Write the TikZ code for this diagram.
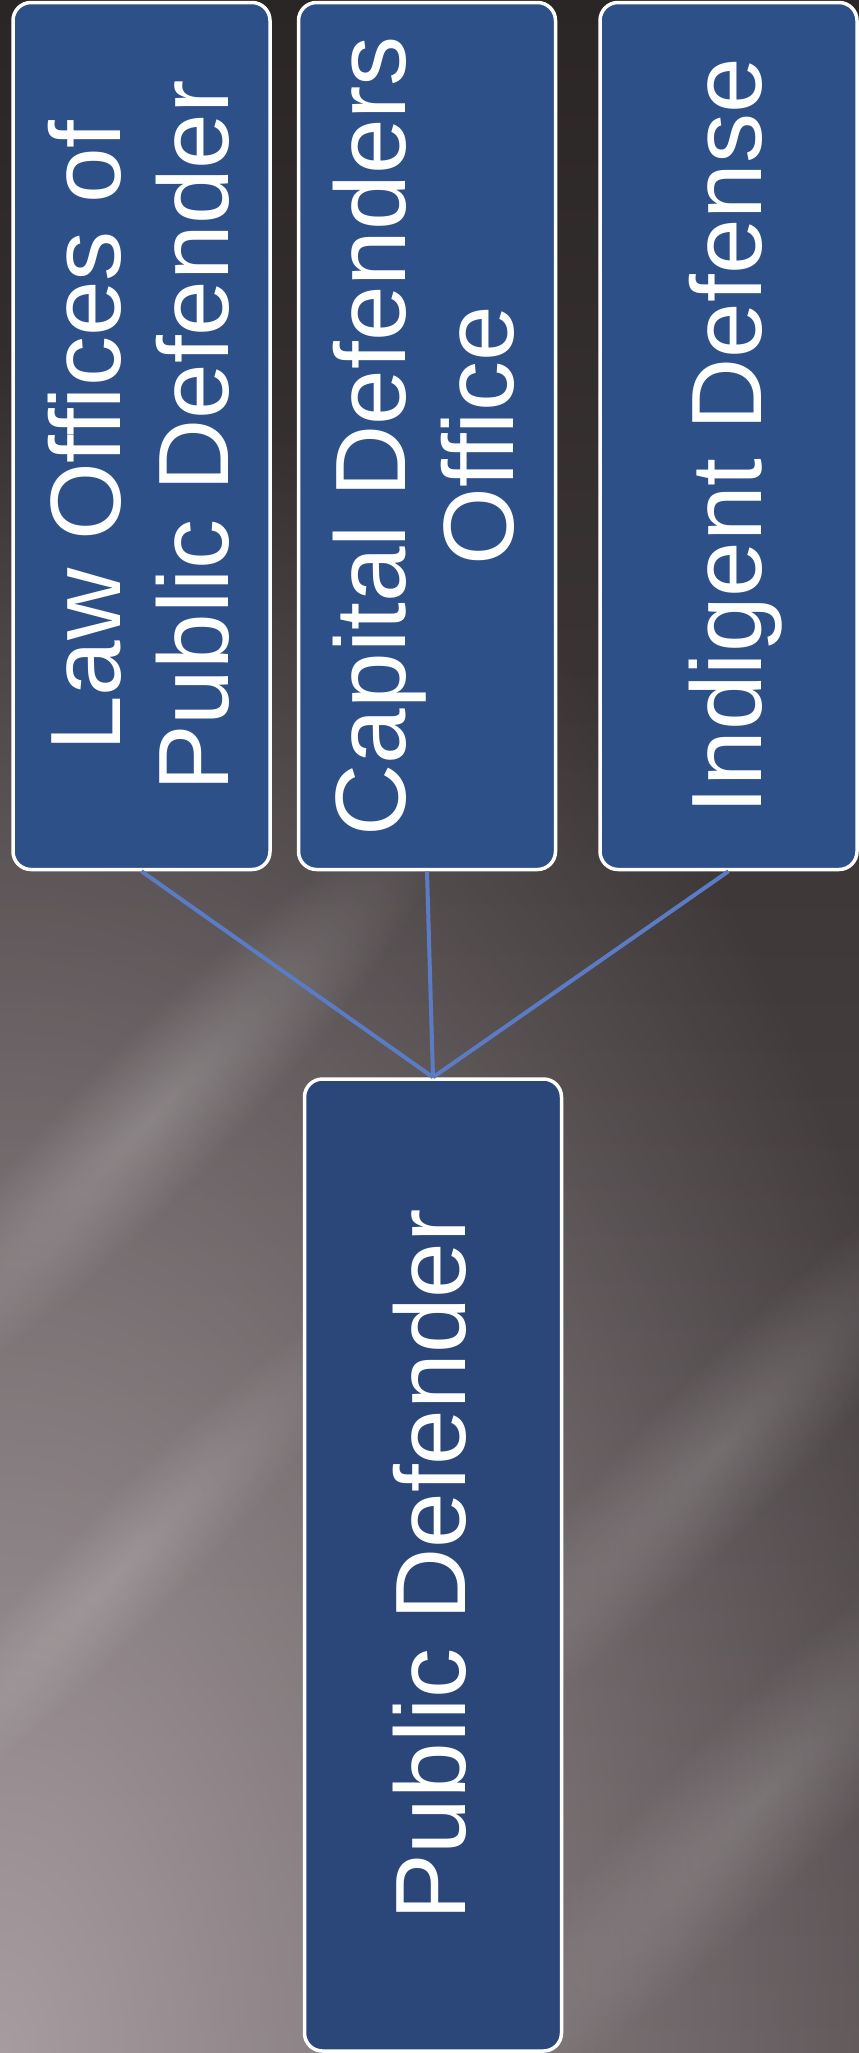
\documentclass[tikz,border=0pt]{standalone}
\usepackage{fontspec}
\setmainfont{Liberation Sans}
\usepackage{graphicx}
\usetikzlibrary{positioning,fadings}
\definecolor{boxblue}{HTML}{2E5089}
\definecolor{rootblue}{HTML}{2B4779}
\definecolor{linkblue}{HTML}{5B7CC4}
\definecolor{bgtop}{HTML}{2B2626}
\definecolor{bgbottom}{HTML}{575051}
\definecolor{bglight}{HTML}{A79CA0}
\tikzfading[name=glow,inner color=transparent!0,outer color=transparent!100]
\newcommand{\sidetext}[1]{\rotatebox{90}{\raisebox{-11pt}[\height][\depth]{\begin{tabular}{@{}c@{}}#1\end{tabular}}}}
\newcommand{\streak}[4]{\begin{scope}[transform canvas={shift={#1},rotate=46}]
    \fill[white,path fading=glow,fill opacity=#4](0,0) ellipse (#2 and #3);\end{scope}}

\begin{document}
\begin{tikzpicture}[x=1pt,y=-1pt,node distance=25pt,
    unit/.style={rectangle,draw=white,line width=3.5pt,fill=boxblue,rounded corners=18pt,
      minimum width=257pt,minimum height=867pt,inner sep=0pt,text=white,
      font=\fontsize{100}{108}\selectfont},
    link/.style={linkblue,line width=4pt}]
    % background
    \useasboundingbox (0,0) rectangle (859,2053);
    \fill[top color=bgtop,bottom color=bgbottom] (0,0) rectangle (859,2053);
    \fill[bglight,path fading=glow] (0,2053) ellipse (1000pt and 1700pt);
    \streak{(150,1120)}{420pt}{75pt}{0.2}
    \streak{(120,1570)}{380pt}{60pt}{0.15}
    \streak{(720,1450)}{420pt}{75pt}{0.15}
    \streak{(760,1800)}{420pt}{85pt}{0.15}
    % boxes
    \node[unit](law) at (141.5,436){\sidetext{Law Offices of\\Public Defender}};
    \node[unit](capital)[right=of law]{\sidetext{Capital Defenders\\Office}};
    \node[unit](indigent)[right=41pt of capital]{\sidetext{Indigent Defense}};
    \node[unit,fill=rootblue,minimum height=972pt](pd) at (433,1565){\sidetext{Public Defender}};
    % links
    \draw[link](law.south) -- (pd.north);
    \draw[link](capital.south) -- (pd.north);
    \draw[link](indigent.south) -- (pd.north);
\end{tikzpicture}
\end{document}
